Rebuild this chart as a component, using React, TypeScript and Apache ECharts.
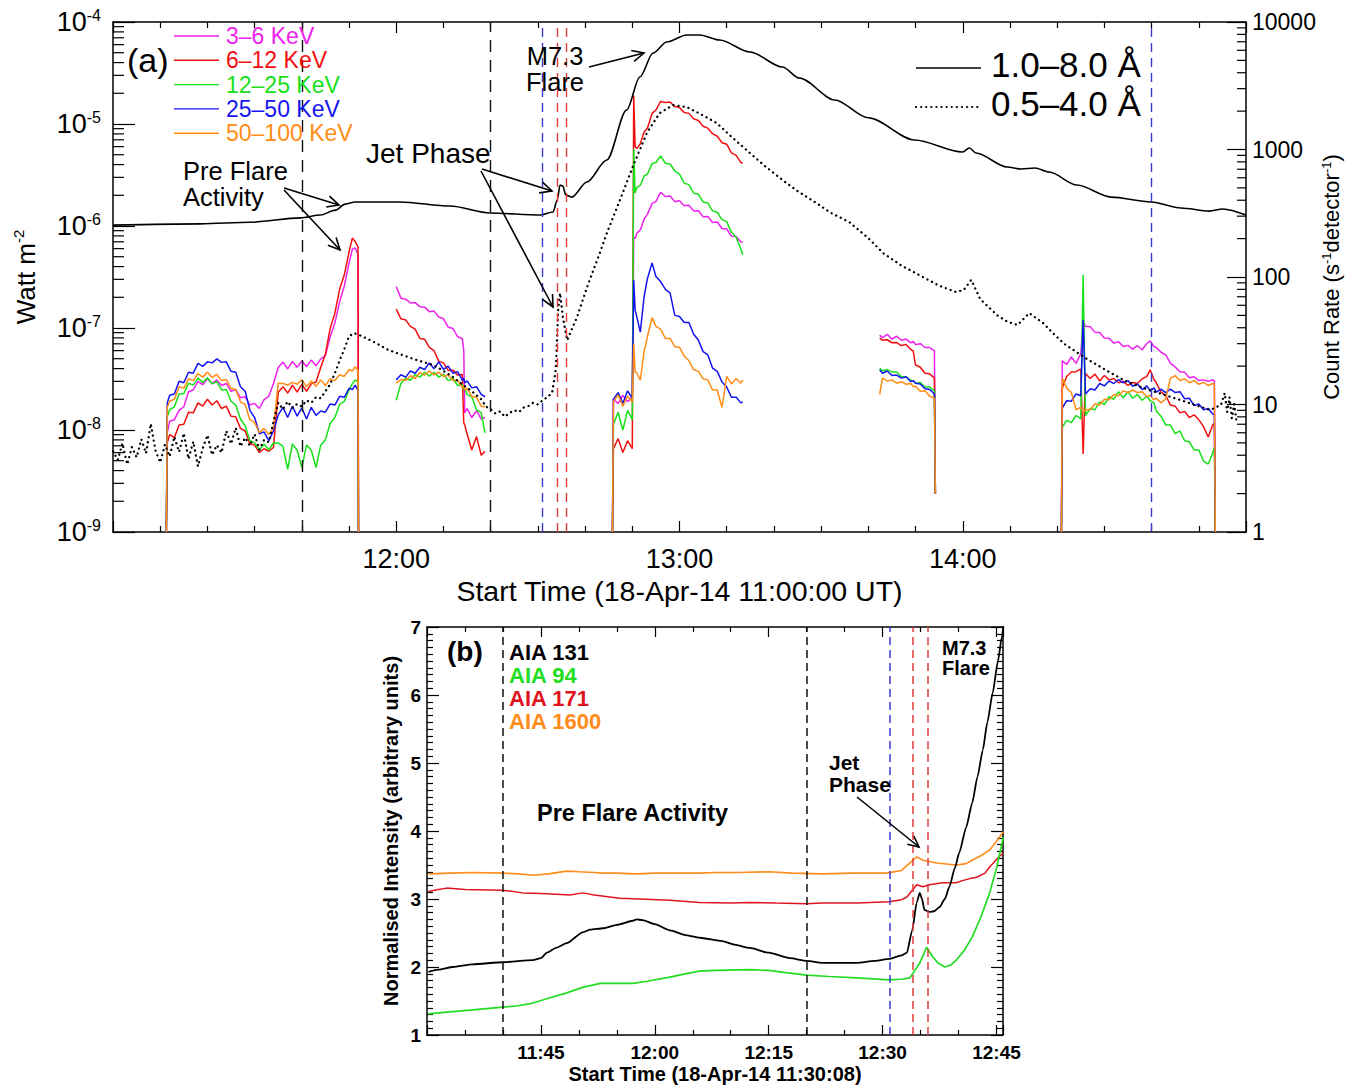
import React, { useEffect, useRef } from 'react';
import * as echarts from 'echarts';

const FONT = '"Liberation Sans", Helvetica, Arial, sans-serif';

// ================= Panel (a) =================
// x = minutes after 11:00 UT, GOES flux in W m^-2
const goesLong = [
  [0, 1.02e-6], [18.5, 1.05e-6], [29.1, 1.09e-6], [39.7, 1.2e-6], [43.9, 1.28e-6], [47.1, 1.43e-6],
  [49.2, 1.64e-6], [51.3, 1.72e-6], [60.8, 1.72e-6], [71.4, 1.57e-6], [79.9, 1.34e-6], [90.5, 1.28e-6],
  [93.2, 1.37e-6], [94.1, 1.8e-6], [94.7, 2.52e-6], [95.3, 2.47e-6], [95.9, 2.01e-6], [97.2, 1.92e-6],
  [100.4, 2.7e-6], [104.6, 4.44e-6], [108.8, 1.37e-5], [111.6, 2.89e-5], [114.4, 4.97e-5], [117.3, 6.37e-5],
  [121.5, 7.46e-5], [124.3, 7.46e-5], [128.5, 6.66e-5], [134.9, 5.08e-5], [141.8, 3.62e-5], [145.4, 2.82e-5],
  [152.9, 1.72e-5], [160.0, 1.15e-5], [169.8, 6.97e-6], [179.9, 5.31e-6], [181.4, 5.82e-6], [182.8, 5.2e-6],
  [189.4, 3.79e-6], [192.4, 3.62e-6], [195.3, 3.7e-6], [198.3, 3.38e-6], [204.2, 2.52e-6], [211.4, 1.92e-6],
  [219.9, 1.72e-6], [226.2, 1.5e-6], [232.2, 1.4e-6], [235.1, 1.47e-6], [240, 1.28e-6],
];
const goesShort = [
  [0, 6.2e-9], [1, 5.1e-9], [2, 7.4e-9], [3, 4.6e-9], [4, 6.8e-9], [5, 5.4e-9], [6, 8.1e-9], [7, 5.9e-9],
  [8, 1.15e-8], [9, 6.3e-9], [10, 4.8e-9], [11, 7.2e-9], [12, 5.5e-9], [13, 8.6e-9], [14, 6.1e-9], [15, 9.3e-9],
  [16, 5.2e-9], [17, 7.7e-9], [18, 4.4e-9], [19, 6.6e-9], [20, 8.9e-9], [21, 5.7e-9], [22, 7.1e-9], [23, 6.0e-9],
  [24, 9.8e-9], [25, 7.3e-9], [26, 1.05e-8], [27, 6.9e-9], [28, 8.4e-9], [29, 7.0e-9], [30, 9.1e-9], [31, 6.4e-9],
  [32, 8.0e-9], [33, 7.6e-9], [34, 1.2e-8], [35, 1.85e-8], [36, 1.6e-8], [37, 1.9e-8], [38, 1.65e-8], [39, 1.8e-8],
  [40, 1.7e-8], [41, 1.95e-8], [42, 1.85e-8], [43, 2.1e-8], [44, 2.05e-8], [45, 2.4e-8], [46, 2.8e-8], [47, 3.6e-8],
  [48, 4.8e-8], [49, 6.2e-8], [50, 8.3e-8], [51, 8.9e-8], [52, 8.6e-8], [54, 7.8e-8], [56, 7.0e-8], [58, 6.2e-8],
  [60, 5.7e-8], [62, 5.3e-8], [64, 4.9e-8], [66, 4.6e-8], [68, 4.3e-8], [70, 3.8e-8], [72, 3.3e-8], [74, 2.8e-8],
  [76, 2.4e-8], [78, 2.0e-8], [79, 1.7e-8], [80, 1.6e-8], [81, 1.45e-8], [82, 1.52e-8], [83, 1.35e-8], [84, 1.47e-8],
  [85, 1.56e-8], [86, 1.5e-8], [87, 1.66e-8], [88, 1.72e-8], [89, 1.85e-8], [90, 1.78e-8], [91, 1.95e-8], [92, 2.1e-8],
  [93, 2.3e-8], [93.8, 3.9e-8], [94.3, 1.5e-7], [94.7, 2.2e-7], [95.3, 1.28e-7], [96.2, 7.6e-8], [97.3, 1.0e-7],
  [98.3, 1.28e-7], [100.4, 2.5e-7], [103.1, 5.4e-7], [104.6, 8.5e-7], [107.4, 1.8e-6], [110.1, 3.8e-6], [113.1, 8.2e-6],
  [115.8, 1.28e-5], [118.6, 1.53e-5], [121.5, 1.47e-5], [124.5, 1.25e-5], [127.9, 1.02e-5], [131, 7.5e-6],
  [134.9, 5.2e-6], [138, 3.9e-6], [141.8, 2.83e-6], [145, 2.2e-6], [149, 1.68e-6], [152, 1.35e-6], [156, 1.09e-6],
  [160, 7.6e-7], [163.2, 5.4e-7], [167, 4.1e-7], [171.9, 3.1e-7], [175, 2.6e-7], [178.6, 2.25e-7], [180.2, 2.36e-7],
  [181.8, 2.96e-7], [183.7, 1.92e-7], [185.5, 1.6e-7], [187.5, 1.31e-7], [189.5, 1.15e-7], [191.6, 1.07e-7],
  [194.1, 1.4e-7], [197, 1.12e-7], [199, 9.0e-8], [201.5, 7.0e-8], [205.9, 5.1e-8], [210.2, 3.9e-8], [214.6, 3.0e-8],
  [219.1, 2.5e-8], [223.5, 2.15e-8], [228, 1.84e-8], [232.4, 1.57e-8], [234.7, 1.76e-8], [235.5, 2.3e-8], [236, 1.5e-8],
  [236.5, 2.1e-8], [237, 1.3e-8], [237.5, 1.8e-8], [238, 1.2e-8],
];

// RHESSI count rates (s^-1 detector^-1), five observing segments
const abT = [11.3, 11.5, 12, 13, 14, 15, 16, 17, 18, 19, 20, 21, 22, 23, 24, 25, 26, 27, 28, 29, 30, 31, 32, 33, 34, 35, 36, 37, 38, 39, 40, 41, 42, 43, 44, 45, 46, 47, 48, 49, 50, 50.7, 51.3, 51.9, 52.0];
const abMag = [1, 6, 7.4, 7.6, 9, 9.6, 12.6, 13, 15.2, 14.3, 15.9, 14.6, 15.6, 14.1, 14.6, 12.7, 13.1, 11.3, 11.5, 9.9, 10.2, 9.3, 10.9, 11.6, 14.6, 19.5, 21.5, 19, 21.8, 19.6, 22, 19.8, 22.3, 20.1, 22.8, 24.2, 34, 43.5, 64, 85, 129, 165, 169, 150, 1];
const abRed = [1, 5.0, 5.8, 5.5, 6.9, 7.0, 8.7, 8.6, 10.3, 9.7, 11, 9.9, 10.7, 9.3, 9.7, 8.1, 8.0, 6.5, 6.2, 4.9, 4.8, 4.2, 4.5, 4.3, 4.6, 12.5, 13.8, 12.3, 14.2, 12.5, 14.4, 12.7, 14.5, 15, 19.5, 25, 39.5, 52, 80, 104, 157, 202, 190, 172, 1];
const abGrn = [1, 8.0, 9.1, 9.6, 12.1, 12.2, 14.7, 14.2, 16.1, 14.9, 16.2, 14.5, 15.1, 13, 13.1, 10.6, 9.9, 7.7, 6.8, 5.2, 5.0, 4.4, 4.9, 4.4, 5.0, 5.0, 4.7, 3.1, 4.9, 4.4, 3.2, 4.8, 4.4, 3.2, 4.8, 5.3, 7.1, 7.9, 10, 10.6, 13, 14.5, 15.6, 15, 1];
const abBlu = [1, 10.3, 11.8, 12.1, 15.2, 14.8, 17.9, 17.6, 21, 19.9, 21.6, 21.2, 22.8, 21.4, 21.6, 18.2, 17.9, 13.8, 12.7, 9.0, 7.9, 5.9, 6.1, 5.2, 6.2, 8.3, 9.5, 7.9, 9.7, 8.1, 9.4, 7.7, 9.5, 8.2, 8.9, 8.7, 10.1, 9.9, 11.6, 11.4, 13.4, 13.1, 14.2, 12.9, 1];
const abOrg = [1, 9.5, 10.6, 11, 13.8, 13.4, 15.9, 15.4, 17.5, 16.4, 17.9, 16.3, 17.2, 15.4, 15.7, 13.4, 13.1, 10.5, 10, 7.6, 7.2, 6.0, 6.5, 5.8, 6.6, 14.7, 14.6, 14.2, 14.9, 14.4, 15.6, 13.8, 15.3, 13.9, 15.6, 14.1, 15.9, 15.4, 17.1, 16.6, 18.8, 18.3, 19.8, 18.5, 1];

const cT = [60, 61, 62, 63, 64, 65, 66, 67, 68, 69, 70, 71, 72, 73, 74, 74.3, 74.5, 75, 76, 77, 78, 78.8];
const cMag = [84, 68, 67, 62.5, 63, 58.5, 58, 53.5, 54, 48.5, 47, 40.5, 39.5, 34, 32.8, 26.5, 8.6, 9.3, 7.9, 8.9, 7.7, 7.9];
const cRed = [56, 47, 46, 41, 39, 33, 32.5, 28, 26.5, 21.8, 21.2, 18.5, 18.6, 17, 17.2, 7.2, 6.9, 5.9, 4.4, 5.6, 4.0, 4.3];
const cGrn = [10.8, 14.7, 16.1, 15.5, 17.2, 16.4, 17.9, 16.7, 17.9, 16.4, 17.3, 15.4, 16, 14.1, 14.3, 13.1, 13.4, 12, 11.5, 9.1, 8.6, 6];
const cBlu = [15.6, 17.1, 16.4, 18.3, 17.6, 19.6, 18.8, 21.2, 19.1, 21.6, 18.9, 20, 17.6, 18.1, 15.5, 16.1, 14.8, 15.3, 13.5, 13.8, 12, 11.5];
const cOrg = [14.7, 15.7, 15.4, 16.8, 16, 17.8, 17, 18.3, 17.1, 17.9, 16.6, 17, 15.4, 15.5, 13.6, 14.1, 13.1, 13.4, 11.6, 11.4, 9.7, 9.6];

const dT = [105.8, 106, 107, 108, 109, 110, 110.3, 110.6, 111, 111.7, 112.5, 113.2, 114.2, 115, 116, 117, 118, 119, 120, 121, 122, 123, 124, 125, 126, 127, 128, 129, 130, 131, 132, 133, 133.4];
const dMag = [1, 11, 10.2, 11.8, 10.5, 11.5, 206, 200, 222, 234, 285, 310, 378, 390, 462, 428, 432, 390, 396, 362, 365, 330, 331, 297, 298, 268, 270, 240, 238, 209, 208, 188, 188];
const dRed = [1, 4.5, 5.4, 4.2, 5.2, 4.5, 2650, 1050, 1020, 1110, 1370, 1470, 1920, 2040, 2380, 2340, 2360, 2170, 2130, 1950, 1920, 1740, 1690, 1520, 1470, 1330, 1270, 1130, 1100, 940, 900, 790, 783];
const dGrn = [1, 7, 8.7, 6.3, 9.0, 7.6, 1000, 456, 505, 525, 620, 640, 775, 790, 890, 780, 770, 680, 640, 545, 530, 455, 445, 388, 380, 330, 322, 282, 272, 224, 205, 165, 149];
const dBlu = [1, 11, 12.4, 10.2, 12.8, 11.2, 95, 55, 48, 37, 70, 97, 129, 101, 92, 80, 75, 50, 49, 44, 44, 35.5, 32, 26, 24.5, 19.3, 18.2, 15, 13.7, 11.4, 11.4, 10.3, 10.5];
const dOrg = [1, 10.5, 11.9, 9.7, 11.6, 10.5, 30, 18, 17.6, 15.5, 26, 34, 48, 41, 39, 33, 33, 28.5, 28, 24, 22, 18.8, 18.2, 15.9, 15.6, 13, 13, 9.5, 16.6, 14.5, 16, 14.7, 15.6];

const eT = [162.4, 163, 164, 165, 166, 167, 168, 169, 169.5, 170, 171, 172, 173, 174, 174.2];
const eMag = [35, 33.5, 35.5, 32.5, 34.3, 31.9, 32.6, 30.4, 31.2, 29.5, 30, 28, 28, 26.3, 2];
const eRed = [33.2, 32, 32.2, 30.5, 30.6, 29, 29.5, 27, 26.3, 20.4, 19.6, 17.6, 17.4, 16.1, 2];
const eGrn = [19.3, 18.4, 18.8, 18, 18, 16.5, 16.5, 15.5, 15.3, 14.7, 14.9, 13.7, 13.7, 12.8, 2];
const eBlu = [18.7, 17.6, 18.3, 16.9, 17, 16.1, 16.5, 15.1, 15.4, 14.7, 14.5, 13.3, 13.1, 12.1, 2];
const eOrg = [12, 16.1, 15.3, 15.6, 14.7, 15.1, 14.4, 14.6, 13.8, 13.9, 12.7, 12.8, 11.6, 11.2, 2];

const fT = [200.9, 201.1, 202, 203, 204, 205, 205.5, 206, 207, 208, 209, 210, 211, 212, 213, 214, 215, 216, 217, 218, 219, 219.7, 220.5, 221, 222, 223, 224, 225, 226, 227, 228, 229, 230, 231, 232, 233, 233.3, 233.5];
const fMag = [1, 22, 20.6, 23.6, 21, 25, 44.4, 41, 40.8, 36.8, 36.7, 33.2, 33.1, 30.3, 31.1, 28.5, 29.1, 27.2, 28.9, 26.9, 30.1, 31.5, 28.5, 28, 25.7, 24.5, 21, 19.7, 18.1, 17.9, 16.2, 16.5, 15.4, 15.6, 15.2, 15.6, 15.3, 1];
const fRed = [1, 13.5, 16.6, 18, 18.1, 19, 4.1, 17.5, 16, 17.3, 15.3, 16.9, 15.6, 16, 14.8, 15.2, 14.1, 14.9, 14.6, 15.9, 16.6, 18.7, 15.7, 14.8, 12.5, 11.8, 9.9, 9.7, 8.6, 8.8, 7.9, 8.3, 7.6, 6.7, 5.56, 7.0, 7.03, 1];
const fGrn = [1, 6.66, 7.5, 7.2, 8.2, 7.7, 104, 8.2, 9.3, 9.1, 10.5, 10, 11.5, 11, 12.6, 11.3, 12.6, 11.2, 12, 10.8, 11.6, 10.7, 10.3, 8.9, 8.1, 6.9, 6.9, 5.9, 6.2, 5.2, 5.1, 4.4, 4.4, 3.6, 3.41, 4.2, 4.64, 1];
const fBlu = [1, 9.39, 10.7, 10.6, 12.1, 11.7, 46, 12.1, 13.3, 13, 14.6, 14, 15.3, 14.6, 15.7, 14.8, 15.4, 13.9, 14.5, 13.1, 14, 12.8, 13.5, 12.5, 13.2, 12.4, 13.2, 12.4, 12.6, 11.1, 11.2, 9.8, 10.1, 9.1, 9.3, 8.4, 8.42, 1];
const fOrg = [1, 16.1, 13.5, 12.4, 9.1, 9.5, 8.8, 9.1, 9.1, 10.1, 9.9, 11, 10.9, 12, 11.7, 12.8, 12.4, 13, 12.4, 12.6, 11.5, 11.8, 10.9, 11.2, 10.3, 11.1, 16.1, 16.8, 15.4, 15.9, 14.8, 15.4, 14.4, 14.9, 14.1, 14.6, 14.5, 1];

const bandNames = ['3–6 KeV', '6–12 KeV', '12–25 KeV', '25–50 KeV', '50–100 KeV'];
const bandColors = ['#ee22ee', '#f01010', '#18e018', '#1414f0', '#ff8c14'];

// Event markers, minutes after 11:00 UT
const blackMarkers = [40, 80];
const blueMarkersA = [91, 220];
const redMarkers = [94, 96];
const blueMarkersB = [91];

// ================= Panel (b) =================
const aia1600 = [
  [30.2, 3.37], [33, 3.38], [36, 3.39], [40, 3.38], [42, 3.37], [44, 3.35], [46, 3.37], [48.4, 3.41], [50, 3.40],
  [52, 3.39], [53.2, 3.38], [55, 3.38], [57.6, 3.37], [60, 3.38], [62, 3.38], [65.9, 3.38], [68, 3.39], [71, 3.39],
  [75.1, 3.40], [78, 3.38], [82.1, 3.37], [86, 3.38], [90.5, 3.38], [92.5, 3.42], [93.6, 3.53], [94.5, 3.62],
  [95.3, 3.57], [97.1, 3.53], [99.7, 3.50], [101, 3.52], [101.8, 3.57], [103, 3.64], [104.1, 3.72], [105, 3.85], [105.9, 3.99],
];
const aia171 = [
  [30.2, 3.11], [31.5, 3.14], [32.6, 3.16], [35, 3.14], [40, 3.13], [42.6, 3.09], [45, 3.08], [47, 3.07], [48.8, 3.06],
  [50.5, 3.09], [52, 3.06], [55.4, 3.01], [58, 3.00], [62, 2.98], [65.9, 2.95], [70, 2.94], [72.5, 2.95], [76, 2.94],
  [80, 2.93], [82, 2.94], [86.6, 2.94], [90.9, 2.96], [92.5, 2.99], [93.2, 3.03], [94.5, 3.21], [95.3, 3.18],
  [96.2, 3.21], [97.9, 3.24], [99.7, 3.24], [100.5, 3.27], [101.5, 3.30], [102.4, 3.32], [103.5, 3.38], [104.1, 3.47],
  [105, 3.58], [105.9, 3.68],
];
const aia131 = [
  [30.2, 1.93], [31.5, 1.96], [33.4, 2.0], [36, 2.04], [40, 2.07], [43.95, 2.10], [45, 2.13], [45.8, 2.21], [47, 2.28],
  [48.4, 2.35], [50.5, 2.51], [51.5, 2.55], [53.2, 2.57], [55, 2.62], [57.1, 2.68], [57.6, 2.70], [58.4, 2.69],
  [60, 2.63], [62, 2.54], [64, 2.47], [65.9, 2.43], [68.9, 2.38], [70.5, 2.33], [72.5, 2.28], [75, 2.21], [77.8, 2.13],
  [80, 2.09], [82.1, 2.06], [86.6, 2.06], [89, 2.09], [90.9, 2.12], [92.5, 2.17], [93.2, 2.21], [93.9, 2.54],
  [94.5, 2.95], [94.9, 3.09], [95.2, 3.0], [95.5, 2.84], [96.2, 2.81], [96.8, 2.82], [97.5, 2.88], [98.2, 3.0],
  [98.8, 3.18], [99.5, 3.45], [100.1, 3.68], [101, 4.05], [101.8, 4.41], [102.5, 4.8], [103.2, 5.19], [103.8, 5.6],
  [104.5, 6.03], [105.2, 6.5], [105.7, 6.85], [106.0, 7.1],
];
const aia94 = [
  [30.2, 1.31], [33, 1.34], [36, 1.37], [40, 1.41], [42, 1.43], [43.95, 1.47], [46, 1.54], [48.4, 1.62], [50.5, 1.70],
  [52.8, 1.76], [55, 1.76], [57.1, 1.76], [59, 1.79], [62, 1.85], [64, 1.90], [65.9, 1.94], [68, 1.95], [72.5, 1.96],
  [75, 1.95], [77, 1.92], [80, 1.88], [83, 1.86], [86.6, 1.84], [90.9, 1.81], [92.5, 1.82], [93.6, 1.84], [94.9, 2.06],
  [95.8, 2.29], [96.6, 2.15], [97.3, 2.06], [98.2, 2.0], [99, 2.03], [99.7, 2.10], [100.8, 2.25], [101.8, 2.44],
  [103, 2.75], [104.1, 3.09], [105, 3.45], [105.9, 3.91],
];

// ---------------- helpers ----------------
const zip = (t: number[], v: number[]) => t.map((x, i) => [x, v[i]]);
function joinSegments(segs: [number[], number[]][]) {
  const out: any[] = [];
  segs.forEach(([t, v], k) => {
    if (k > 0) out.push([t[0] - 0.05, '-']);
    out.push(...zip(t, v));
  });
  return out;
}

function txt(text: string, x: number, y: number, size: number, opts: any = {}) {
  return {
    type: 'text', x, y, z: 100,
    style: {
      text, fill: opts.color || '#000', fontSize: size, fontFamily: FONT,
      fontWeight: opts.bold ? 'bold' : 'normal',
      align: opts.align || 'left', textAlign: opts.align || 'left',
      verticalAlign: 'middle', textVerticalAlign: 'middle',
      lineHeight: opts.lineHeight,
    },
  };
}
function arrow(x1: number, y1: number, x2: number, y2: number, head = 13) {
  const a = Math.atan2(y2 - y1, x2 - x1);
  const ha = Math.PI / 7;
  const p1 = [x2 - head * Math.cos(a - ha), y2 - head * Math.sin(a - ha)];
  const p2 = [x2 - head * Math.cos(a + ha), y2 - head * Math.sin(a + ha)];
  return [
    { type: 'line', z: 100, shape: { x1, y1, x2, y2 }, style: { stroke: '#000', lineWidth: 1.6 } },
    { type: 'polyline', z: 100, shape: { points: [p1, [x2, y2], p2] }, style: { stroke: '#000', lineWidth: 1.6, fill: null } },
  ];
}
function hline(x1: number, x2: number, y: number, color: string, extra: any = {}) {
  return { type: 'line', z: 100, shape: { x1, y1: y, x2, y2: y }, style: { stroke: color, lineWidth: 1.4, ...extra } };
}

function buildOption() {
  const bands = [
    joinSegments([[abT, abMag], [cT, cMag], [dT, dMag], [eT, eMag], [fT, fMag]]),
    joinSegments([[abT, abRed], [cT, cRed], [dT, dRed], [eT, eRed], [fT, fRed]]),
    joinSegments([[abT, abGrn], [cT, cGrn], [dT, dGrn], [eT, eGrn], [fT, fGrn]]),
    joinSegments([[abT, abBlu], [cT, cBlu], [dT, dBlu], [eT, eBlu], [fT, fBlu]]),
    joinSegments([[abT, abOrg], [cT, cOrg], [dT, dOrg], [eT, eOrg], [fT, fOrg]]),
  ];

  const minorMult = [2, 3, 4, 5, 6, 7, 8, 9];
  const leftMinor: number[][] = [];
  [-9, -8, -7, -6, -5].forEach((d) => minorMult.forEach((m) => leftMinor.push([0, m * Math.pow(10, d)])));
  const rightMinor: number[][] = [];
  [0, 1, 2, 3].forEach((d) => minorMult.forEach((m) => rightMinor.push([0, m * Math.pow(10, d)])));

  const black = '#000';
  const axLine = { show: true, onZero: false, lineStyle: { color: black, width: 1.5 } };
  const tickStyle = { color: black, width: 1.2 };

  const markersA = [
    ...blackMarkers.map((x) => ({ xAxis: x, lineStyle: { color: '#111', type: [12, 8], width: 1.4 } })),
    ...blueMarkersA.map((x) => ({ xAxis: x, lineStyle: { color: '#3a3ad0', type: [9, 6], width: 1.4 } })),
    ...redMarkers.map((x) => ({ xAxis: x, lineStyle: { color: '#e23c3c', type: [9, 6], width: 1.4 } })),
  ];
  const markersB = [
    ...blackMarkers.map((x) => ({ xAxis: x, lineStyle: { color: '#111', type: [8, 5], width: 1.5 } })),
    ...blueMarkersB.map((x) => ({ xAxis: x, lineStyle: { color: '#3a3ad0', type: [8, 5], width: 1.5 } })),
    ...redMarkers.map((x) => ({ xAxis: x, lineStyle: { color: '#e23c3c', type: [8, 5], width: 1.5 } })),
  ];

  const supRich = {
    b: { fontSize: 27, lineHeight: 30, color: black, fontFamily: FONT },
    s: { fontSize: 16, lineHeight: 16, verticalAlign: 'top', color: black, fontFamily: FONT },
  };

  const graphic: any[] = [
    txt('(a)', 127, 60, 34),
    ...bandNames.flatMap((n, i) => [
      hline(174, 219, 36 + i * 24.3, bandColors[i]),
      txt(n, 226, 36 + i * 24.3, 23, { color: bandColors[i] }),
    ]),
    hline(916, 981, 68, black, { lineWidth: 1.5 }),
    txt('1.0–8.0 Å', 991, 64, 35),
    hline(916, 981, 107, black, { lineWidth: 2.2, lineDash: [0.1, 5], lineCap: 'round' }),
    txt('0.5–4.0 Å', 991, 103, 35),
    txt('M7.3\nFlare', 555, 69, 25.5, { align: 'center', lineHeight: 26 }),
    ...arrow(589, 67, 644, 53),
    txt('Jet Phase', 366, 153, 28),
    ...arrow(482, 169, 552, 191),
    ...arrow(481, 171, 553, 307),
    txt('Pre Flare\nActivity', 183, 184, 25.5, { lineHeight: 26 }),
    ...arrow(284, 188, 339, 205),
    ...arrow(284, 190, 340, 250),
    // panel (b)
    txt('(b)', 447, 651, 28, { bold: true }),
    txt('AIA 131', 509, 652, 22, { bold: true, color: '#000' }),
    txt('AIA 94', 509, 675, 22, { bold: true, color: '#22dd22' }),
    txt('AIA 171', 509, 698, 22, { bold: true, color: '#e0141e' }),
    txt('AIA 1600', 509, 721, 22, { bold: true, color: '#ff8c1a' }),
    txt('Pre Flare Activity', 537, 813, 23.5, { bold: true }),
    txt('Jet\nPhase', 829, 773, 21, { bold: true, lineHeight: 22 }),
    txt('M7.3\nFlare', 942, 658, 20, { bold: true, lineHeight: 20 }),
    ...arrow(857, 797, 919, 847, 12),
  ];

  const timeLabelA = (v: number) => (v > 0 && v < 240 ? `${11 + v / 60}:00` : '');
  const timeLabelB = (v: number) => {
    if (v <= 30 || v > 106) return '';
    const h = 11 + Math.floor(v / 60);
    const m = v % 60;
    return `${h}:${String(m).padStart(2, '0')}`;
  };

  return {
    animation: false,
    backgroundColor: '#fff',
    textStyle: { fontFamily: FONT },
    grid: [
      { left: 113, top: 22, width: 1133, height: 510, containLabel: false, outerBoundsMode: 'none' },
      { left: 427, top: 627, width: 576, height: 408, containLabel: false, outerBoundsMode: 'none' },
    ],
    xAxis: [
      {
        type: 'value', gridIndex: 0, position: 'bottom', min: 0, max: 240, interval: 60,
        axisLine: axLine,
        axisTick: { show: true, inside: true, length: 11, lineStyle: tickStyle },
        minorTick: { show: true, splitNumber: 6, length: 6, lineStyle: tickStyle },
        splitLine: { show: false },
        axisLabel: { margin: 13, fontSize: 27, color: black, fontFamily: FONT, formatter: timeLabelA },
        name: 'Start Time (18-Apr-14 11:00:00 UT)', nameLocation: 'middle', nameGap: 44, nameMoveOverlap: false,
        nameTextStyle: { fontSize: 28.5, color: black, fontFamily: FONT },
      },
      {
        type: 'value', gridIndex: 0, position: 'top', min: 0, max: 240, interval: 60,
        axisLine: axLine,
        axisTick: { show: true, inside: true, length: 11, lineStyle: tickStyle },
        minorTick: { show: true, splitNumber: 6, length: 6, lineStyle: tickStyle },
        splitLine: { show: false }, axisLabel: { show: false },
      },
      {
        type: 'value', gridIndex: 1, position: 'bottom', min: 30, max: 105.86, interval: 15,
        axisLine: axLine,
        axisTick: { show: true, inside: true, length: 10, lineStyle: tickStyle },
        minorTick: { show: true, splitNumber: 3, length: 5, lineStyle: tickStyle },
        splitLine: { show: false },
        axisLabel: { margin: 8, fontSize: 19, fontWeight: 'bold', color: black, fontFamily: FONT, formatter: timeLabelB },
        name: 'Start Time (18-Apr-14 11:30:08)', nameLocation: 'middle', nameGap: 29, nameMoveOverlap: false,
        nameTextStyle: { fontSize: 20, fontWeight: 'bold', color: black, fontFamily: FONT },
      },
      {
        type: 'value', gridIndex: 1, position: 'top', min: 30, max: 105.86, interval: 15,
        axisLine: axLine,
        axisTick: { show: true, inside: true, length: 10, lineStyle: tickStyle },
        minorTick: { show: true, splitNumber: 3, length: 5, lineStyle: tickStyle },
        splitLine: { show: false }, axisLabel: { show: false },
      },
    ],
    yAxis: [
      {
        type: 'log', logBase: 10, gridIndex: 0, position: 'left', min: 1e-9, max: 1e-4,
        axisLine: axLine,
        axisTick: { show: true, inside: true, length: 22, lineStyle: tickStyle },
        minorTick: { show: false }, splitLine: { show: false },
        axisLabel: {
          margin: 12,
          formatter: (v: number) => `{b|10}{s|${Math.round(Math.log10(v))}}`,
          rich: supRich,
        },
        name: '{n|Watt m}{s|-2}', nameLocation: 'middle', nameGap: 72, nameMoveOverlap: false,
        nameTextStyle: {
          rich: {
            n: { fontSize: 26, lineHeight: 30, color: black, fontFamily: FONT },
            s: { fontSize: 15, lineHeight: 15, verticalAlign: 'top', color: black, fontFamily: FONT },
          },
        },
      },
      {
        type: 'log', logBase: 10, gridIndex: 0, position: 'right', min: 1, max: 10000,
        axisLine: axLine,
        axisTick: { show: true, inside: true, length: 19, lineStyle: tickStyle },
        minorTick: { show: false }, splitLine: { show: false },
        axisLabel: { margin: 6, fontSize: 23, color: black, fontFamily: FONT, formatter: (v: number) => String(Math.round(v)) },
        name: '{n|Count Rate (s}{s|-1}{n|detector}{s|-1}{n|)}', nameLocation: 'middle', nameGap: 74, nameMoveOverlap: false,
        nameTextStyle: {
          rich: {
            n: { fontSize: 22, lineHeight: 22, color: black, fontFamily: FONT },
            s: { fontSize: 13, lineHeight: 13, verticalAlign: 'top', color: black, fontFamily: FONT },
          },
        },
      },
      {
        type: 'value', gridIndex: 1, position: 'left', min: 1, max: 7, interval: 1,
        axisLine: axLine,
        axisTick: { show: true, inside: true, length: 12, lineStyle: tickStyle },
        minorTick: { show: true, splitNumber: 10, length: 6, lineStyle: tickStyle },
        splitLine: { show: false },
        axisLabel: { margin: 6, fontSize: 19, fontWeight: 'bold', color: black, fontFamily: FONT },
        name: 'Normalised Intensity (arbitrary units)', nameLocation: 'middle', nameGap: 26, nameMoveOverlap: false,
        nameTextStyle: { fontSize: 20, fontWeight: 'bold', color: black, fontFamily: FONT },
      },
      {
        type: 'value', gridIndex: 1, position: 'right', min: 1, max: 7, interval: 1,
        axisLine: axLine,
        axisTick: { show: true, inside: true, length: 12, lineStyle: tickStyle },
        minorTick: { show: true, splitNumber: 10, length: 6, lineStyle: tickStyle },
        splitLine: { show: false }, axisLabel: { show: false },
      },
    ],
    series: [
      ...bands.map((data, i) => ({
        type: 'line', name: bandNames[i], xAxisIndex: 0, yAxisIndex: 1, data,
        showSymbol: false, symbol: 'none', connectNulls: false, silent: true, z: 2,
        lineStyle: { color: bandColors[i], width: 1.5 },
      })),
      {
        type: 'line', name: '1.0–8.0 Å', xAxisIndex: 0, yAxisIndex: 0, data: goesLong,
        showSymbol: false, symbol: 'none', smooth: 0.3, smoothMonotone: 'x', silent: true, z: 3,
        lineStyle: { color: black, width: 1.6 },
        markLine: { silent: true, symbol: ['none', 'none'], label: { show: false }, data: markersA },
      },
      {
        type: 'line', name: '0.5–4.0 Å', xAxisIndex: 0, yAxisIndex: 0, data: goesShort,
        showSymbol: false, symbol: 'none', silent: true, z: 3,
        lineStyle: { color: black, width: 2.3, type: [0.1, 5], cap: 'round' },
      },
      {
        type: 'custom', xAxisIndex: 0, yAxisIndex: 0, data: leftMinor, silent: true, clip: false, z: 5,
        renderItem: (params: any, api: any) => {
          const p = api.coord([0, api.value(1)]);
          const cs = params.coordSys;
          return { type: 'line', shape: { x1: cs.x, y1: p[1], x2: cs.x + 11, y2: p[1] }, style: { stroke: black, lineWidth: 1.2 } };
        },
      },
      {
        type: 'custom', xAxisIndex: 0, yAxisIndex: 1, data: rightMinor, silent: true, clip: false, z: 5,
        renderItem: (params: any, api: any) => {
          const p = api.coord([0, api.value(1)]);
          const cs = params.coordSys;
          const xr = cs.x + cs.width;
          return { type: 'line', shape: { x1: xr - 9, y1: p[1], x2: xr, y2: p[1] }, style: { stroke: black, lineWidth: 1.2 } };
        },
      },
      {
        type: 'line', name: 'AIA 1600', xAxisIndex: 2, yAxisIndex: 2, data: aia1600, showSymbol: false, symbol: 'none',
        silent: true, lineStyle: { color: '#ff8c1a', width: 1.6 },
        markLine: { silent: true, symbol: ['none', 'none'], label: { show: false }, data: markersB },
      },
      {
        type: 'line', name: 'AIA 171', xAxisIndex: 2, yAxisIndex: 2, data: aia171, showSymbol: false, symbol: 'none',
        silent: true, lineStyle: { color: '#e0141e', width: 1.5 },
      },
      {
        type: 'line', name: 'AIA 94', xAxisIndex: 2, yAxisIndex: 2, data: aia94, showSymbol: false, symbol: 'none',
        silent: true, lineStyle: { color: '#22dd22', width: 1.7 },
      },
      {
        type: 'line', name: 'AIA 131', xAxisIndex: 2, yAxisIndex: 2, data: aia131, showSymbol: false, symbol: 'none',
        smooth: 0.2, smoothMonotone: 'x', silent: true, lineStyle: { color: '#000', width: 1.8 },
      },
    ],
    graphic,
  };
}

export default function App() {
  const ref = useRef<HTMLDivElement>(null);
  useEffect(() => {
    if (!ref.current) return;
    const chart = echarts.init(ref.current, null, { renderer: 'svg' });
    chart.setOption(buildOption() as any);
    return () => chart.dispose();
  }, []);
  return (
    <div
      ref={ref}
      style={{ position: 'fixed', left: 0, top: 0, width: 1346, height: 1086, background: '#fff' }}
    />
  );
}
